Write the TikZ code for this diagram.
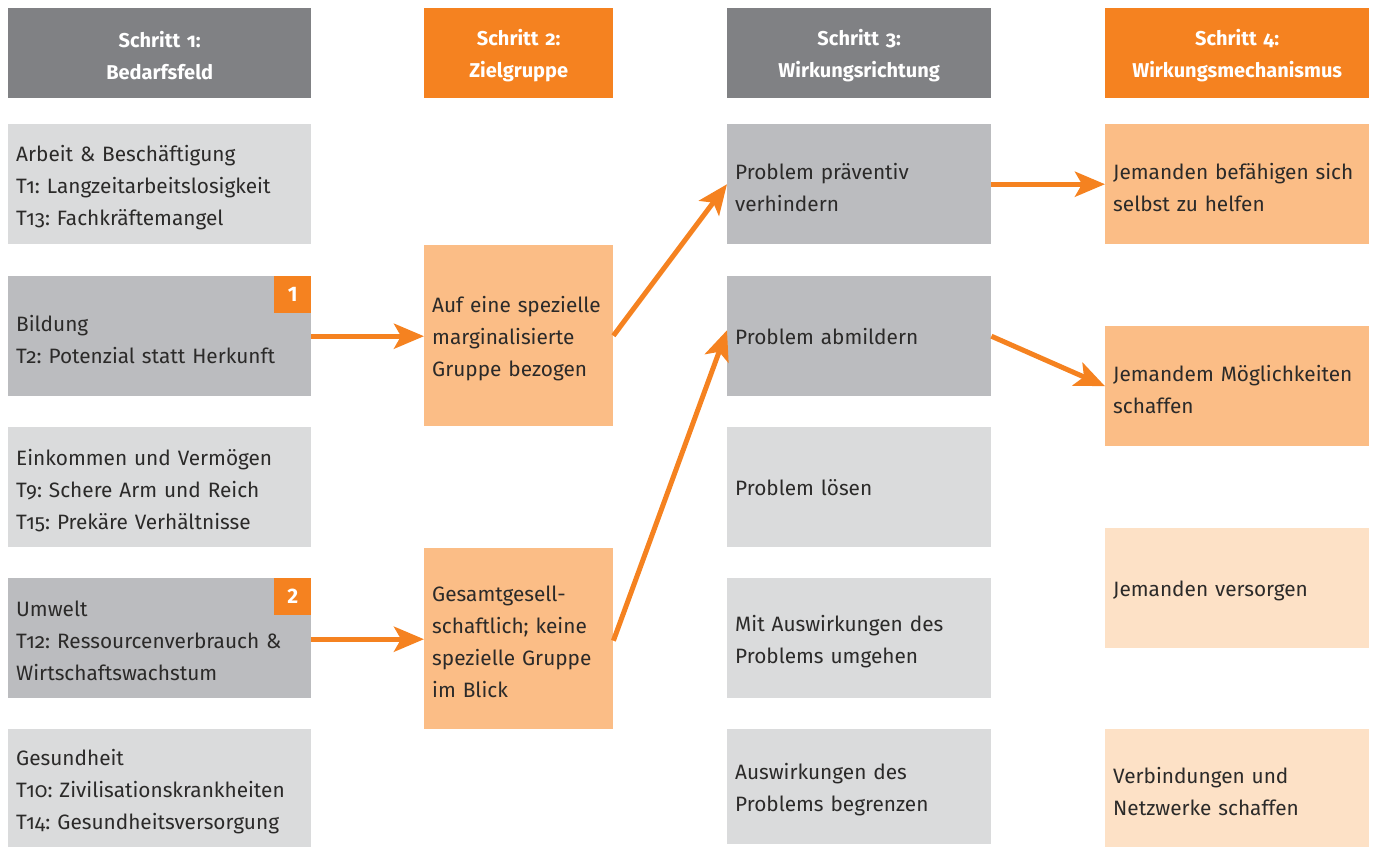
\documentclass[tikz,border=0pt]{standalone}
\usepackage{fontspec}
\setmainfont{Fira Sans}[Numbers=OldStyle]
\usetikzlibrary{arrows.meta}
\frenchspacing
\definecolor{hgray}{HTML}{808184}
\definecolor{orng}{HTML}{F58220}
\definecolor{lorng}{HTML}{FBBD86}
\definecolor{porng}{HTML}{FDE1C6}
\definecolor{lgray}{HTML}{DADBDC}
\definecolor{dgray}{HTML}{BBBCBF}
\definecolor{txt}{HTML}{2B2A29}
\tikzset{
  box/.style args={#1/#2}{anchor=north west, inner xsep=8pt, inner ysep=0pt,
    text width=#1pt-16pt, minimum height=#2pt, align=left, text=txt,
    font=\fontsize{20.8}{32}\selectfont\frenchspacing,
    execute at end node={\par\kern-6pt}},
  hdr/.style args={#1/#2}{anchor=north west, inner sep=0pt,
    text width=#1pt, minimum height=90pt, align=center, text=white, fill=#2,
    font=\fontsize{20}{32}\selectfont\bfseries\frenchspacing,
    execute at end node={\par\kern-5pt}},
  badge/.style={anchor=north east, fill=orng, text=white, inner sep=0pt,
    minimum size=37pt, font=\fontsize{21}{24}\selectfont\bfseries\addfontfeatures{Numbers=Lining}},
  arr/.style={draw=orng, line width=5pt, -{Stealth[length=30pt,width=25pt,inset=7pt]}},
}
\begin{document}
\begin{tikzpicture}[x=1pt,y=-1pt]
\useasboundingbox (0,0) rectangle (1375,846);
% headers
\node[hdr=303/hgray] (h1) at (8,8) {Schritt 1:\\Bedarfsfeld};
\node[hdr=189/orng] (h2) at (424,8) {Schritt 2:\\Zielgruppe};
\node[hdr=264/hgray] (h3) at (727,8) {Schritt 3:\\Wirkungsrichtung};
\node[hdr=264/orng] (h4) at (1105,8) {Schritt 4:\\Wirkungsmechanismus};
% column 1
\node[box=303/120, fill=lgray] (a1) at (8,124) {Arbeit \& Beschäftigung\\T1: Langzeitarbeitslosigkeit\\T13: Fachkräftemangel};
\node[box=303/120, fill=dgray] (a2) at (8,276) {Bildung\\T2: Potenzial statt Herkunft};
\node[box=303/120, fill=lgray] (a3) at (8,427) {Einkommen und Vermögen\\T9: Schere Arm und Reich\\T15: Prekäre Verhältnisse};
\node[box=303/120, fill=dgray] (a4) at (8,578) {Umwelt\\T12: Ressourcenverbrauch \&\\Wirtschaftswachstum};
\node[box=303/118, fill=lgray] (a5) at (8,729) {Gesundheit\\T10: Zivilisationskrankheiten\\T14: Gesundheitsversorgung};
\node[badge] (b1) at (a2.north east) {1};
\node[badge] (b2) at (a4.north east) {2};
% column 2
\node[box=189/181, fill=lorng] (z1) at (424,245) {Auf eine spezielle\\marginalisierte\\Gruppe bezogen};
\node[box=189/181, fill=lorng] (z2) at (424,548) {Gesamtgesell-\\schaftlich; keine\\spezielle Gruppe\\im Blick};
% column 3
\node[box=264/120, fill=dgray] (w1) at (727,124) {Problem präventiv\\verhindern};
\node[box=264/120, fill=dgray] (w2) at (727,276) {Problem abmildern};
\node[box=264/120, fill=lgray] (w3) at (727,427) {Problem lösen};
\node[box=264/120, fill=lgray] (w4) at (727,578) {Mit Auswirkungen des\\Problems umgehen};
\node[box=264/115, fill=lgray] (w5) at (727,729) {Auswirkungen des\\Problems begrenzen};
% column 4
\node[box=264/120, fill=lorng] (m1) at (1105,124) {Jemanden befähigen sich\\selbst zu helfen};
\node[box=264/120, fill=lorng] (m2) at (1105,326) {Jemandem Möglichkeiten\\schaffen};
\node[box=264/120, fill=porng] (m3) at (1105,528) {Jemanden versorgen};
\node[box=264/118, fill=porng] (m4) at (1105,729) {Verbindungen und\\Netzwerke schaffen};
% arrows
\draw[arr] (a2.east) -- (a2.east -| z1.west);
\draw[arr] ([yshift=-1pt]a4.east) -- ([yshift=-1pt]a4.east -| z2.west);
\draw[arr] (z1.east) -- (w1.west);
\draw[arr] ([yshift=-2pt]z2.east) -- ([yshift=6pt]w2.west);
\draw[arr] (w1.east) -- (m1.west);
\draw[arr] (w2.east) -- (m2.west);
\end{tikzpicture}
\end{document}
